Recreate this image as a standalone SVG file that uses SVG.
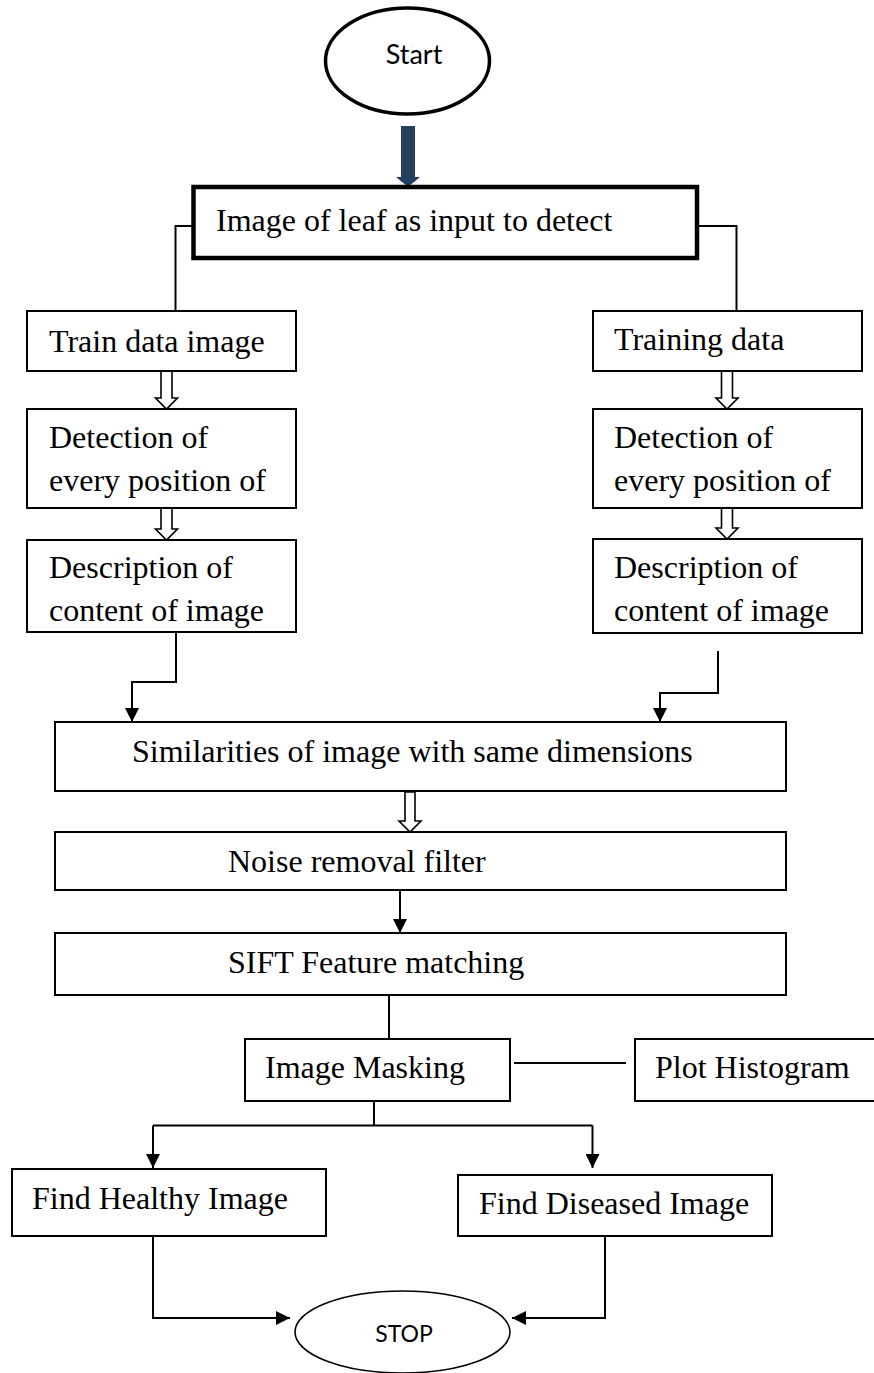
<svg xmlns="http://www.w3.org/2000/svg" width="874" height="1373" viewBox="0 0 874 1373">
  <style>
    .box { fill: #ffffff; stroke: #000000; stroke-width: 2; }
    .thick { fill: #ffffff; stroke: #000000; stroke-width: 4.5; }
    .lbl { font-family: "Liberation Serif", "Times New Roman", serif; font-size: 32px; fill: #000000; }
    .sans { font-family: Lato, "Open Sans", sans-serif; fill: #000000; text-anchor: middle; }
    .wire { fill: none; stroke: #000000; stroke-width: 2; }
    .arr { fill: none; stroke: #000000; stroke-width: 2; marker-end: url(#head); }
    .hollow { fill: #ffffff; stroke: #000000; stroke-width: 1.6; stroke-linejoin: miter; }
  </style>
  <defs>
    <marker id="head" viewBox="0 0 14 14" refX="14" refY="7" markerWidth="14" markerHeight="14" markerUnits="userSpaceOnUse" orient="auto">
      <path d="M0,0 L14,7 L0,14 Z" fill="#000000"/>
    </marker>
  </defs>

  <rect width="874" height="1373" fill="#ffffff"/>

  <!-- connectors -->
  <g id="connectors">
    <!-- start to input box -->
    <path d="M401,126 H415 V177 H420 L408,187 L396,177 H401 Z" fill="#243f60"/>
    <!-- input box split to the two columns -->
    <path class="wire" d="M193,226 H175.5 V311"/>
    <path class="wire" d="M697,226 H736.5 V311"/>
    <!-- hollow arrows in left column -->
    <path class="hollow" d="M161,371 H172 V398 H177.5 L166.5,409 L155.5,398 H161 Z"/>
    <path class="hollow" d="M161,508 H172 V529 H177.5 L166.5,540 L155.5,529 H161 Z"/>
    <!-- hollow arrows in right column -->
    <path class="hollow" d="M721.5,371 H732.5 V398 H738 L727,409 L716,398 H721.5 Z"/>
    <path class="hollow" d="M721.5,508 H732.5 V528 H738 L727,539 L716,528 H721.5 Z"/>
    <!-- columns merge into similarity box -->
    <path class="arr" d="M176,632 V682 H132 V722"/>
    <path class="arr" d="M718,651 V693 H660 V722"/>
    <!-- similarity to noise filter -->
    <path class="hollow" d="M405,792 H415 V821 H421 L410,832 L399,821 H405 Z"/>
    <!-- noise filter to SIFT -->
    <path class="arr" d="M400,890 V933"/>
    <!-- SIFT to masking -->
    <path class="wire" d="M389,995 V1039"/>
    <!-- masking to histogram -->
    <path class="wire" d="M514,1063 H626"/>
    <!-- masking split -->
    <path class="wire" d="M374,1101 V1125.5"/>
    <path class="wire" d="M153,1125.5 H592.5"/>
    <path class="arr" d="M153,1125.5 V1168"/>
    <path class="arr" d="M592.5,1125.5 V1168"/>
    <!-- results to stop -->
    <path class="arr" d="M153,1236 V1318 H290"/>
    <path class="arr" d="M605,1236 V1318 H512"/>
  </g>

  <g id="start">
    <ellipse cx="407.5" cy="61" rx="82" ry="53" fill="#ffffff" stroke="#000000" stroke-width="3.5"/>
    <text class="sans" x="414" y="64" font-size="27">Start</text>
  </g>

  <g id="input">
    <rect class="thick" x="193.5" y="187" width="503.5" height="71"/>
    <text class="lbl" x="216" y="231">Image of leaf as input to detect</text>
  </g>

  <g id="train-image">
    <rect class="box" x="27" y="311" width="269" height="60"/>
    <text class="lbl" x="49" y="352">Train data image</text>
  </g>
  <g id="detect-left">
    <rect class="box" x="27" y="409" width="269" height="99"/>
    <text class="lbl" x="49" y="448">Detection of</text>
    <text class="lbl" x="49" y="491">every position of</text>
  </g>
  <g id="describe-left">
    <rect class="box" x="27" y="540" width="269" height="92"/>
    <text class="lbl" x="49" y="578">Description of</text>
    <text class="lbl" x="49" y="621">content of image</text>
  </g>

  <g id="training-data">
    <rect class="box" x="593" y="311" width="269" height="60"/>
    <text class="lbl" x="614" y="350">Training data</text>
  </g>
  <g id="detect-right">
    <rect class="box" x="593" y="409" width="269" height="99"/>
    <text class="lbl" x="614" y="448">Detection of</text>
    <text class="lbl" x="614" y="491">every position of</text>
  </g>
  <g id="describe-right">
    <rect class="box" x="593" y="539" width="269" height="94"/>
    <text class="lbl" x="614" y="578">Description of</text>
    <text class="lbl" x="614" y="621">content of image</text>
  </g>

  <g id="similarities">
    <rect class="box" x="55" y="722" width="731" height="69"/>
    <text class="lbl" x="132" y="762">Similarities of image with same dimensions</text>
  </g>

  <g id="noise-filter">
    <rect class="box" x="55" y="832" width="731" height="58"/>
    <text class="lbl" x="228" y="872">Noise removal filter</text>
  </g>

  <g id="sift">
    <rect class="box" x="55" y="933" width="731" height="62"/>
    <text class="lbl" x="228" y="973">SIFT Feature matching</text>
  </g>

  <g id="masking">
    <rect class="box" x="245" y="1039" width="265" height="62"/>
    <text class="lbl" x="265" y="1078">Image Masking</text>
  </g>

  <g id="histogram">
    <rect class="box" x="635" y="1039" width="250" height="62"/>
    <text class="lbl" x="655" y="1078">Plot Histogram</text>
  </g>

  <g id="healthy">
    <rect class="box" x="12" y="1169" width="314" height="67"/>
    <text class="lbl" x="32" y="1209">Find Healthy Image</text>
  </g>

  <g id="diseased">
    <rect class="box" x="458" y="1175" width="314" height="61"/>
    <text class="lbl" x="479" y="1214">Find Diseased Image</text>
  </g>

  <g id="stop">
    <ellipse cx="402.5" cy="1332" rx="107.5" ry="41" fill="#ffffff" stroke="#000000" stroke-width="1.6"/>
    <text class="sans" x="404" y="1342" font-size="23">STOP</text>
  </g>
</svg>
